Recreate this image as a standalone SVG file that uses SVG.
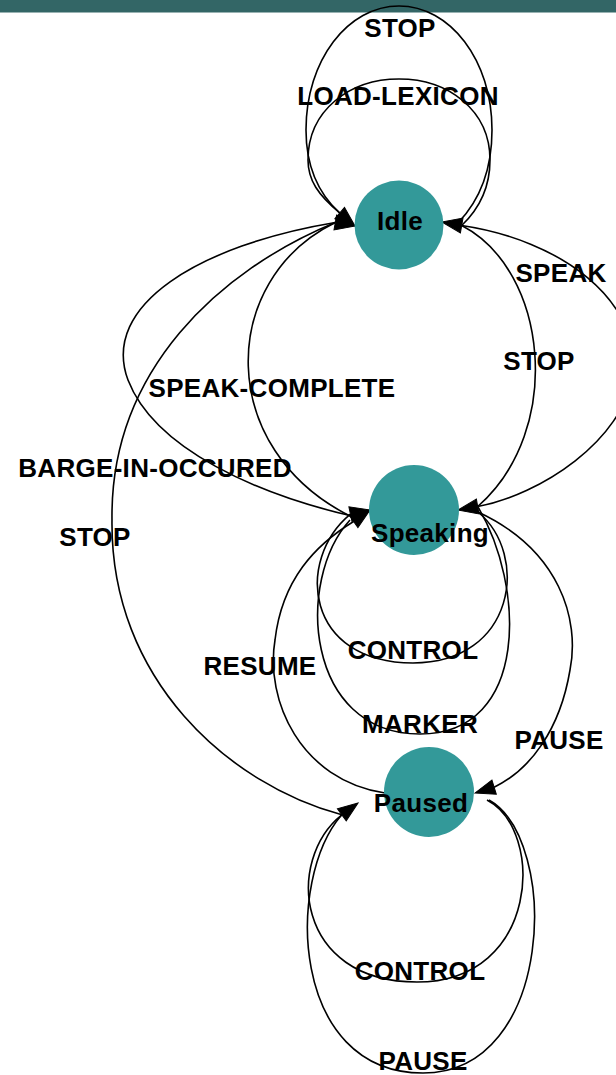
<svg xmlns="http://www.w3.org/2000/svg" xmlns:xlink="http://www.w3.org/1999/xlink" width="616" height="1075" viewBox="0 0 616 1075">
  <style>
    .node circle { fill: #339999; }
    .node text, .lbl { font-family: "Liberation Sans", Arial, sans-serif; font-weight: bold; font-size: 26px; letter-spacing: 0.3px; text-anchor: middle; fill: #000; }
    .edges path { fill: none; stroke: #000; stroke-width: 1.6; }
    .head { fill: #000; stroke: #000; stroke-width: 1; stroke-linejoin: miter; }
  </style>
  <defs>
    <!-- arrowhead, tip at origin pointing along +x -->
    <path id="ah" class="head" d="M0,0 L-20,-7.5 L-20,7.5 Z"/>
  </defs>

  <!-- header band -->
  <rect x="0" y="0" width="616" height="12.5" fill="#336666"/>

  <g id="edges" class="edges">
    <!-- Idle -> Idle : STOP -->
    <path d="M458,223 C480,200 492,170 492,130 C492,60 450,6 399,6 C348,6 306,60 306,130 C306,170 320,195 339.7,213.1"/>
    <!-- Idle -> Idle : LOAD-LEXICON -->
    <path d="M340,213 C318,195 308,180 308,160 C308,110 350,79 399,79 C448,79 490,110 490,160 C490,190 478,210 461.7,225.5"/>
    <!-- Idle -> Speaking : SPEAK -->
    <path d="M461.7,225.5 C560,240 642,300 632,375 C624,440 540,495 477.7,506.5"/>
    <!-- Speaking -> Idle : STOP -->
    <path d="M477.7,506.5 C565,430 548,270 461.7,225.5"/>
    <!-- Speaking -> Idle : SPEAK-COMPLETE -->
    <path d="M352,517 C215,450 218,280 335.3,222.5"/>
    <!-- Speaking -> Idle : BARGE-IN-OCCURED -->
    <path d="M352,516 C260,495 155,450 128,380 C100,305 200,245 335.3,222.5"/>
    <!-- Paused -> Idle : STOP -->
    <path d="M341.8,814.8 C230,785 110,680 112,520 C110,370 220,270 335.3,222.5"/>
    <!-- Speaking -> Speaking : CONTROL -->
    <path d="M478,512 C530,555 515,663 413,663 C305,663 295,560 350.4,514.2"/>
    <!-- Speaking -> Speaking : MARKER -->
    <path d="M350,520 C295,580 305,734 420,734 C530,734 525,585 477.7,506.5"/>
    <!-- Paused -> Speaking : RESUME -->
    <path d="M385,793 C300,780 265,700 275,640 C282,580 315,545 353.6,521.5"/>
    <!-- Speaking -> Paused : PAUSE -->
    <path d="M478,512 C560,550 580,620 570,670 C560,730 530,770 494.1,787.2"/>
    <!-- Paused -> Paused : CONTROL -->
    <path d="M487,800 C545,830 540,982 417,982 C295,982 285,860 341.8,814.8"/>
    <!-- Paused -> Paused : PAUSE -->
    <path d="M489,800 C560,840 555,1073 423,1073 C290,1073 285,880 341.8,814.8"/>

    <!-- arrowheads -->
    <use xlink:href="#ah" href="#ah" transform="translate(355,226) rotate(40)"/>
    <use xlink:href="#ah" href="#ah" transform="translate(355,226) rotate(10)"/>
    <use xlink:href="#ah" href="#ah" transform="translate(442,222) rotate(190)"/>
    <use xlink:href="#ah" href="#ah" transform="translate(370,510) rotate(-35)"/>
    <use xlink:href="#ah" href="#ah" transform="translate(370,510) rotate(-12)"/>
    <use xlink:href="#ah" href="#ah" transform="translate(458,510) rotate(170)"/>
    <use xlink:href="#ah" href="#ah" transform="translate(475,793) rotate(163)"/>
    <use xlink:href="#ah" href="#ah" transform="translate(358,803) rotate(-36)"/>

    <!-- edge labels -->
    <text class="lbl" x="400" y="37">STOP</text>
    <text class="lbl" x="398" y="105">LOAD-LEXICON</text>
    <text class="lbl" x="561" y="282">SPEAK</text>
    <text class="lbl" x="539" y="370">STOP</text>
    <text class="lbl" x="272" y="397">SPEAK-COMPLETE</text>
    <text class="lbl" x="155" y="477">BARGE-IN-OCCURED</text>
    <text class="lbl" x="95" y="546">STOP</text>
    <text class="lbl" x="413" y="659">CONTROL</text>
    <text class="lbl" x="260" y="675">RESUME</text>
    <text class="lbl" x="420" y="733">MARKER</text>
    <text class="lbl" x="559" y="749">PAUSE</text>
    <text class="lbl" x="420" y="980">CONTROL</text>
    <text class="lbl" x="423" y="1070">PAUSE</text>
  </g>

  <g id="node-idle" class="node">
    <circle cx="399" cy="225" r="44.5"/>
    <text x="400" y="230">Idle</text>
  </g>
  <g id="node-speaking" class="node">
    <circle cx="414" cy="510" r="45"/>
    <text x="430" y="542">Speaking</text>
  </g>
  <g id="node-paused" class="node">
    <circle cx="429" cy="792" r="45"/>
    <text x="421" y="812">Paused</text>
  </g>
</svg>
